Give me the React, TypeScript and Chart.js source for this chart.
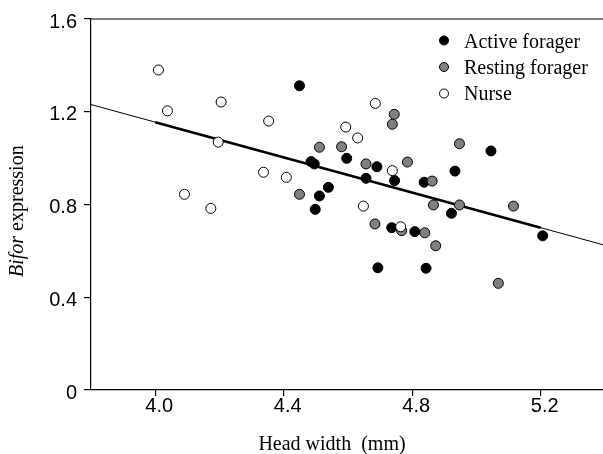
import React, { useEffect, useRef } from "react";
import { Chart, registerables } from "chart.js";

Chart.register(...registerables);

// Active forager (black)
const activeX = [4.449, 4.596, 4.485, 4.495, 4.690, 4.656, 4.745, 4.539, 4.511, 4.498, 5.045, 4.933, 4.837, 4.922, 5.206, 4.808, 4.843, 4.736, 4.693];
const activeY = [1.312, 0.999, 0.985, 0.975, 0.963, 0.913, 0.903, 0.874, 0.837, 0.779, 1.031, 0.944, 0.896, 0.762, 0.665, 0.683, 0.525, 0.700, 0.527];

// Resting forager (grey)
const restingX = [4.744, 4.738, 4.511, 4.580, 4.656, 4.785, 4.449, 4.947, 4.862, 4.866, 4.947, 5.115, 4.839, 4.873, 5.068, 4.684, 4.767];
const restingY = [1.189, 1.146, 1.047, 1.049, 0.975, 0.983, 0.844, 1.062, 0.901, 0.798, 0.798, 0.793, 0.678, 0.622, 0.460, 0.716, 0.687];

// Nurse (white)
const nurseX = [4.010, 4.038, 4.205, 4.196, 4.091, 4.173, 4.685, 4.353, 4.593, 4.630, 4.738, 4.337, 4.408, 4.648, 4.764];
const nurseY = [1.380, 1.204, 1.242, 1.069, 0.844, 0.783, 1.236, 1.160, 1.134, 1.087, 0.946, 0.939, 0.917, 0.793, 0.704];

// Regression line: thin over full axis, thick over data range
const fitThinX = [3.8, 5.4];
const fitThinY = [1.231, 0.624];
const fitThickX = [4.0, 5.2];
const fitThickY = [1.155, 0.700];

const xTicks = [4.0, 4.4, 4.8, 5.2];
const yTicks = [0, 0.4, 0.8, 1.2, 1.6];

const seriesNames = ["Active forager", "Resting forager", "Nurse"];
const seriesFills = ["#000000", "#808080", "#ffffff"];

const xTitle = "Head width  (mm)";
const yTitleItalic = "Bifor";
const yTitleRest = " expression";

const SERIF = '"Liberation Serif", "Times New Roman", serif';
const SANS = '"Liberation Sans", Arial, sans-serif';

const zip = (xs: number[], ys: number[]) => xs.map((x, i) => ({ x, y: ys[i] }));

export default function App() {
  const ref = useRef<HTMLCanvasElement>(null);

  useEffect(() => {
    const overlay = {
      id: "overlay",
      afterDraw(chart: any) {
        const ctx = chart.ctx;
        const area = chart.chartArea;
        ctx.save();
        // top frame line
        ctx.strokeStyle = "#000";
        ctx.lineWidth = 1.2;
        ctx.beginPath();
        ctx.moveTo(area.left, area.top);
        ctx.lineTo(area.right, area.top);
        ctx.stroke();

        // legend
        const lx = 444;
        const dotYs = [40.5, 67, 93.5];
        const textYs = [48, 74, 100];
        seriesNames.forEach((name, i) => {
          ctx.beginPath();
          ctx.arc(lx, dotYs[i], 4.5, 0, Math.PI * 2);
          ctx.fillStyle = seriesFills[i];
          ctx.fill();
          ctx.lineWidth = 1;
          ctx.strokeStyle = "#000";
          ctx.stroke();
          ctx.fillStyle = "#000";
          ctx.font = `20px ${SERIF}`;
          ctx.textAlign = "left";
          ctx.textBaseline = "alphabetic";
          ctx.fillText(name, 464, textYs[i]);
        });

        // x title
        ctx.font = `20px ${SERIF}`;
        ctx.textAlign = "center";
        ctx.textBaseline = "alphabetic";
        ctx.fillStyle = "#000";
        ctx.fillText(xTitle, 332, 450);

        // y title (rotated)
        ctx.translate(23, 277);
        ctx.rotate(-Math.PI / 2);
        ctx.textAlign = "left";
        ctx.font = `italic 20px ${SERIF}`;
        ctx.fillText(yTitleItalic, 0, 0);
        const w = ctx.measureText(yTitleItalic).width;
        ctx.font = `20px ${SERIF}`;
        ctx.fillText(yTitleRest, w, 0);
        ctx.restore();
      },
    };

    const pointDs = (i: number, xs: number[], ys: number[], order: number) => ({
      label: seriesNames[i],
      data: zip(xs, ys),
      showLine: false,
      pointRadius: 5,
      pointHoverRadius: 5,
      pointBackgroundColor: seriesFills[i],
      pointBorderColor: "#000",
      pointBorderWidth: 1,
      order,
    });

    const chart = new Chart(ref.current!, {
      type: "scatter",
      data: {
        datasets: [
          pointDs(0, activeX, activeY, 4),
          pointDs(1, restingX, restingY, 3),
          pointDs(2, nurseX, nurseY, 2),
          {
            label: "fit-thin",
            data: zip(fitThinX, fitThinY),
            showLine: true,
            borderColor: "#000",
            borderWidth: 1,
            pointRadius: 0,
            order: 6,
          } as any,
          {
            label: "fit-thick",
            data: zip(fitThickX, fitThickY),
            showLine: true,
            borderColor: "#000",
            borderWidth: 2.6,
            pointRadius: 0,
            order: 5,
          } as any,
        ],
      },
      plugins: [overlay],
      options: {
        responsive: false,
        animation: false,
        events: [],
        layout: { padding: { top: 19, right: 10, left: 0, bottom: 0 } },
        plugins: {
          legend: { display: false },
          tooltip: { enabled: false },
          title: { display: false },
        },
        scales: {
          x: {
            type: "linear",
            min: 3.8,
            max: 5.4,
            afterBuildTicks: (s: any) => {
              s.ticks = xTicks.map((v) => ({ value: v }));
            },
            afterFit: (s: any) => {
              s.height = 64;
            },
            ticks: {
              callback: (v: any) => Number(v).toFixed(1),
              font: { family: SANS, size: 20 },
              color: "#000",
              padding: -2,
              labelOffset: 4,
              maxRotation: 0,
              autoSkip: false,
            },
            grid: {
              display: true,
              drawOnChartArea: false,
              drawTicks: true,
              tickLength: 6,
              color: "#000",
              lineWidth: 1.2,
            },
            border: { display: true, color: "#000", width: 1.2 },
          },
          y: {
            type: "linear",
            min: 0,
            max: 1.6,
            afterBuildTicks: (s: any) => {
              s.ticks = yTicks.map((v) => ({ value: v }));
            },
            afterFit: (s: any) => {
              s.width = 91;
            },
            ticks: {
              callback: (v: any) => (Number(v) === 0 ? "0" : Number(v).toFixed(1)),
              font: { family: SANS, size: 20 },
              color: "#000",
              padding: 7,
              labelOffset: 3,
              autoSkip: false,
            },
            grid: {
              display: true,
              drawOnChartArea: false,
              drawTicks: true,
              tickLength: 7,
              color: "#000",
              lineWidth: 1.2,
            },
            border: { display: true, color: "#000", width: 1.2 },
          },
        },
      } as any,
    });
    return () => chart.destroy();
  }, []);

  return (
    <div
      style={{
        position: "fixed",
        left: 0,
        top: 0,
        width: 603,
        height: 454,
        overflow: "hidden",
        background: "#fff",
      }}
    >
      <canvas ref={ref} width={615} height={454} style={{ display: "block" }} />
    </div>
  );
}
